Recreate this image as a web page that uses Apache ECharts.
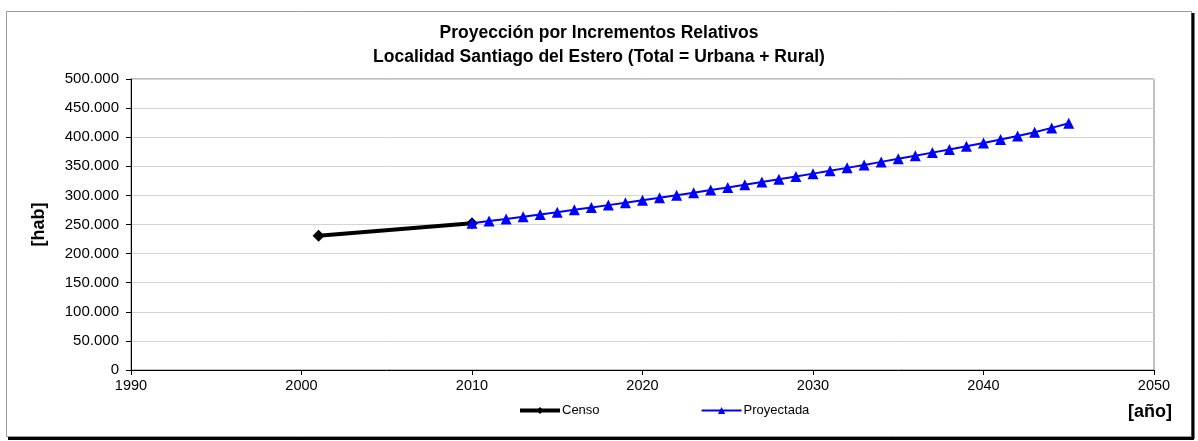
<!DOCTYPE html>
<html>
<head>
<meta charset="utf-8">
<script src="https://cdn.jsdelivr.net/npm/echarts@6/dist/echarts.min.js"></script>
<style>
  html, body { margin: 0; padding: 0; background: #fff; }
  #chart { width: 1198px; height: 441px; }
</style>
</head>
<body>
<div id="chart"></div>
<script>
// Population (inhabitants) of Santiago del Estero, census and projection
const censoYears = [2001, 2010];
const censoValues = [230600, 252200];

const proyYears = [2010, 2011, 2012, 2013, 2014, 2015, 2016, 2017, 2018, 2019,
                   2020, 2021, 2022, 2023, 2024, 2025, 2026, 2027, 2028, 2029,
                   2030, 2031, 2032, 2033, 2034, 2035, 2036, 2037, 2038, 2039,
                   2040, 2041, 2042, 2043, 2044, 2045];
const proyValues = [252200, 255900, 259600, 263400, 267300, 271200, 275200, 279200, 283300, 287500,
                    291700, 296000, 300300, 304700, 309200, 313700, 318300, 323000, 327700, 332500,
                    337400, 342300, 347300, 352400, 357600, 362800, 368100, 373500, 378900, 384500,
                    390100, 396000, 402200, 408600, 416000, 424000];

const titleLines = ['Proyección por Incrementos Relativos',
                    'Localidad Santiago del Estero (Total = Urbana + Rural)'];

const fmtThousands = v => String(v).replace(/\B(?=(\d{3})+(?!\d))/g, '.');
const pairs = (xs, ys) => xs.map((x, i) => [x, ys[i]]);

const FONT = '"Liberation Sans", Arial, sans-serif';

const chart = echarts.init(document.getElementById('chart'), null, { renderer: 'canvas' });
chart.setOption({
  backgroundColor: '#ffffff',
  animation: false,
  title: {
    text: titleLines.join('\n'),
    left: 'center',
    top: 16,
    textStyle: { fontFamily: FONT, fontSize: 17.5, fontWeight: 'bold', color: '#000', lineHeight: 24 }
  },
  graphic: [
    { type: 'rect', shape: { x: 6.5, y: 11.5, width: 1185, height: 425 },
      style: { fill: 'none', stroke: '#9a9a9a', lineWidth: 1 }, silent: true },
    { type: 'line', shape: { x1: 1193, y1: 13, x2: 1193, y2: 439 },
      style: { stroke: '#000', lineWidth: 3 }, silent: true },
    { type: 'line', shape: { x1: 8, y1: 438.5, x2: 1194, y2: 438.5 },
      style: { stroke: '#000', lineWidth: 3 }, silent: true },
    { type: 'text', left: 1128, top: 403,
      style: { text: '[año]', font: 'bold 18px ' + FONT, fill: '#000' } }
  ],
  legend: {
    left: 513,
    top: 399,
    itemWidth: 40,
    itemHeight: 9,
    itemGap: 101,
    textStyle: { fontFamily: FONT, fontSize: 13, color: '#000', padding: [0, 0, 0, -3] },
    data: [
      { name: 'Censo', lineStyle: { width: 4 } },
      { name: 'Proyectada', lineStyle: { width: 2 } }
    ]
  },
  grid: {
    left: 131, right: 44, top: 79, bottom: 71,
    show: true, borderColor: '#808080', borderWidth: 1, backgroundColor: '#fff'
  },
  xAxis: {
    type: 'value',
    min: 1990, max: 2050, interval: 10,
    axisLine: { show: true, lineStyle: { color: '#000', width: 1 } },
    axisTick: { show: true, length: 5, inside: false, lineStyle: { color: '#000' } },
    axisLabel: { fontFamily: FONT, fontSize: 14.5, color: '#000', margin: 8, formatter: v => String(v) },
    splitLine: { show: false }
  },
  yAxis: {
    type: 'value',
    min: 0, max: 500000, interval: 50000,
    name: '[hab]',
    nameLocation: 'middle',
    nameGap: 83,
    nameRotate: 90,
    nameTextStyle: { fontFamily: FONT, fontSize: 18, fontWeight: 'bold', color: '#000' },
    axisLine: { show: true, lineStyle: { color: '#000', width: 1 } },
    axisTick: { show: true, length: 5, inside: false, lineStyle: { color: '#000' } },
    axisLabel: { fontFamily: FONT, fontSize: 15, color: '#000', margin: 12, formatter: fmtThousands },
    splitLine: { show: true, lineStyle: { color: '#d4d4d4', width: 1 } }
  },
  series: [
    {
      name: 'Censo',
      type: 'line',
      data: pairs(censoYears, censoValues),
      symbol: 'diamond',
      symbolSize: 12,
      lineStyle: { color: '#000', width: 4 },
      itemStyle: { color: '#000' },
      z: 2
    },
    {
      name: 'Proyectada',
      type: 'line',
      data: pairs(proyYears, proyValues),
      symbol: 'triangle',
      symbolSize: 11,
      lineStyle: { color: '#0000ff', width: 2 },
      itemStyle: { color: '#0000ff' },
      z: 3
    }
  ]
});
</script>
</body>
</html>
